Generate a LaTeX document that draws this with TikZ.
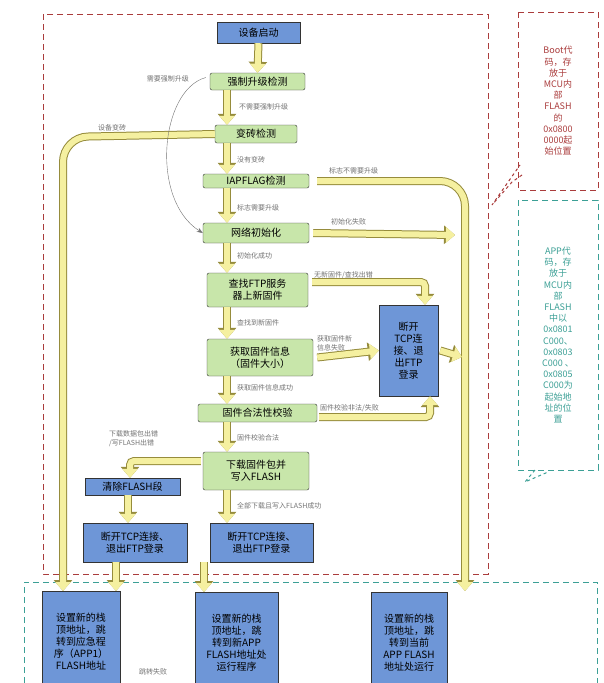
\documentclass[tikz,border=0pt]{standalone}
\usepackage{fontspec}
\setmainfont{Noto Sans CJK SC}
\usetikzlibrary{arrows.meta}
\definecolor{gfill}{RGB}{200,230,170}
\definecolor{bfill}{RGB}{110,150,215}
\definecolor{yarrow}{RGB}{245,240,160}
\definecolor{yedge}{RGB}{150,140,60}
\definecolor{redd}{RGB}{170,60,60}
\definecolor{teald}{RGB}{60,160,150}
\tikzset{
 gbox/.style={draw=black!80, fill=gfill, rounded corners=2pt, align=center, inner sep=1pt, font=\fontsize{10}{12}\selectfont},
 bbox/.style={draw=black!80, fill=bfill, align=center, inner sep=1pt, font=\fontsize{10}{12}\selectfont},
 fat/.style={line width=6pt, draw=yarrow, -{Triangle[length=9pt,width=15pt]}, preaction={draw=yedge, line width=8pt, -{Triangle[length=11pt,width=18pt]}}},
 lbl/.style={text=black!55, font=\fontsize{7}{9}\selectfont, align=left, inner sep=1pt},
 note/.style={align=center, font=\fontsize{9}{11.2}\selectfont, inner sep=1pt}
}
\begin{document}
\begin{tikzpicture}[x=1pt,y=-1pt]
\useasboundingbox (0,0) rectangle (604,683);
\fill[white] (0,0) rectangle (604,683);
% frames
\draw[redd, dashed, line width=1pt, dash pattern=on 6pt off 4pt] (43,14) rectangle (488,574);
\draw[teald, dashed, line width=1pt, dash pattern=on 6pt off 4pt] (24,683) -- (24,582) -- (597,582) -- (597,683);
\draw[redd, dashed, line width=1pt, dash pattern=on 6pt off 4pt] (518,12) rectangle (598,190);
\draw[redd, dashed, line width=1pt] (522,175) -- (512,182) -- (492,205) -- (520,165);
\node[note, text=redd] (bootn) at (558,101) {Boot代\\码，存\\放于\\MCU内\\部\\FLASH\\的\\0x0800\\0000起\\始位置};
\draw[teald, dashed, line width=1pt, dash pattern=on 6pt off 4pt] (518,200) rectangle (598,470);
\draw[teald, dashed, line width=1pt] (535,470) -- (525,482) -- (548,472);
\node[note, text=teald] (appn) at (558,335) {APP代\\码，存\\放于\\MCU内\\部\\FLASH\\中以\\0x0801\\C000、\\0x0803\\C000 、\\0x0805\\C000为\\起始地\\址的位\\置};
% nodes
\node[bbox, minimum width=83pt, minimum height=21pt] (start) at (258.5,32.5) {设备启动};
\node[gbox, minimum width=95pt, minimum height=17pt] (force) at (257.5,81.5) {强制升级检测};
\node[gbox, minimum width=82pt, minimum height=18pt] (brick) at (256,134) {变砖检测};
\node[gbox, minimum width=106pt, minimum height=14pt] (iap) at (256,181) {IAPFLAG检测};
\node[gbox, minimum width=106pt, minimum height=20pt] (net) at (256,233) {网络初始化};
\node[gbox, minimum width=101pt, minimum height=34pt] (find) at (257.5,290) {查找FTP服务\\器上新固件};
\node[gbox, minimum width=106pt, minimum height=37pt] (info) at (260,357.5) {获取固件信息\\（固件大小）};
\node[gbox, minimum width=119pt, minimum height=18pt] (check) at (257.5,413) {固件合法性校验};
\node[gbox, minimum width=106pt, minimum height=38pt] (down) at (256,471) {下载固件包并\\写入FLASH};
\node[bbox, minimum width=95pt, minimum height=17pt] (clr) at (132.5,486.5) {清除FLASH段};
\node[bbox, minimum width=104pt, minimum height=39pt] (discL) at (135,542.5) {断开TCP连接、\\退出FTP登录};
\node[bbox, minimum width=103pt, minimum height=39pt] (discM) at (261.5,542.5) {断开TCP连接、\\退出FTP登录};
\node[bbox, minimum width=59pt, minimum height=91pt] (discR) at (408.5,350.5) {断开\\TCP连\\接、退\\出FTP\\登录};
\node[bbox, minimum width=78pt, minimum height=100pt, anchor=north] (appL) at (81,591) {设置新的栈\\顶地址，跳\\转到应急程\\序（APP1）\\FLASH地址};
\node[bbox, minimum width=83pt, minimum height=100pt, anchor=north] (appM) at (236.5,592) {设置新的栈\\顶地址，跳\\转到新APP\\FLASH地址处\\运行程序};
\node[bbox, minimum width=76pt, minimum height=100pt, anchor=north] (appR) at (409,592) {设置新的栈\\顶地址，跳\\转到当前\\APP FLASH\\地址处运行};
% main vertical arrows
\draw[fat] (start.south) -- (force.north);
\draw[fat] (force.south-|227,0) -- (brick.north-|227,0);
\draw[fat] (brick.south-|227,0) -- (iap.north-|227,0);
\draw[fat] (iap.south-|227,0) -- (net.north-|227,0);
\draw[fat] (net.south-|227,0) -- (find.north-|227,0);
\draw[fat] (find.south-|227,0) -- (info.north-|227,0);
\draw[fat] (info.south-|227,0) -- (check.north-|227,0);
\draw[fat] (check.south-|227,0) -- (down.north-|227,0);
\draw[fat] (down.south-|227,0) -- (discM.north-|227,0);
\draw[fat] (clr.south-|128,0) -- (discL.north-|128,0);
\draw[fat] (discL.south-|116,0) -- (appL.north-|116,0);
\draw[fat] (discM.south-|204,0) -- (appM.north-|204,0);
% side arrows
\draw[fat, rounded corners=25pt] (brick.west) -- (63,137) -- (63,591);
\draw[fat, rounded corners=25pt] (iap.east) ++(8,0) -- (465,181) -- (465,591);
\draw[fat] (net.east) ++(4,0) -- (455,235);
\draw[fat, rounded corners=4pt] (find.east) ++(4,-8) -- (425,282) -- (discR.north-|425,0);
\draw[fat] (info.east) ++(4,0) -- (discR.west);
\draw[fat, rounded corners=4pt] (check.east) ++(2,4) -- (430,417) -- (discR.south-|430,0);
\draw[fat] (discR.east) ++(2,0) -- (462,357);
\draw[fat, rounded corners=4pt] (down.west) ++(-2,-10) -- (130,461) -- (clr.north-|130,0);
\draw[black!55, -{Stealth[length=6pt]}] (force.west) ++(-4,-4) .. controls (160,90) and (150,200) .. (net.west);
% labels
\node[lbl, anchor=east] (l1) at (190,79) {需要强制升级};
\node[lbl, anchor=west] (l2) at (238,107) {不需要强制升级};
\node[lbl, anchor=west] (l3) at (97,128) {设备变砖};
\node[lbl, anchor=west] (l4) at (236,160) {没有变砖};
\node[lbl, anchor=west] (l5) at (328,171) {标志不需要升级};
\node[lbl, anchor=west] (l6) at (236,208) {标志需要升级};
\node[lbl, anchor=west] (l7) at (330,222) {初始化失败};
\node[lbl, anchor=west] (l8) at (236,256) {初始化成功};
\node[lbl, anchor=west] (l9) at (313,275) {无新固件/查找出错};
\node[lbl, anchor=west] (l10) at (236,323) {查找到新固件};
\node[lbl, anchor=west] (l11) at (316,343) {获取固件新\\信息失败};
\node[lbl, anchor=west] (l12) at (236,388) {获取固件信息成功};
\node[lbl, anchor=west] (l13) at (319,408) {固件校验非法/失败};
\node[lbl, anchor=west] (l14) at (236,438) {固件校验合法};
\node[lbl, anchor=west] (l15) at (108,439) {下载数据包出错\\/写FLASH出错};
\node[lbl, anchor=west] (l16) at (236,506) {全部下载且写入FLASH成功};
\node[lbl, anchor=west] (l17) at (138,672) {跳转失败};
\end{tikzpicture}
\end{document}
